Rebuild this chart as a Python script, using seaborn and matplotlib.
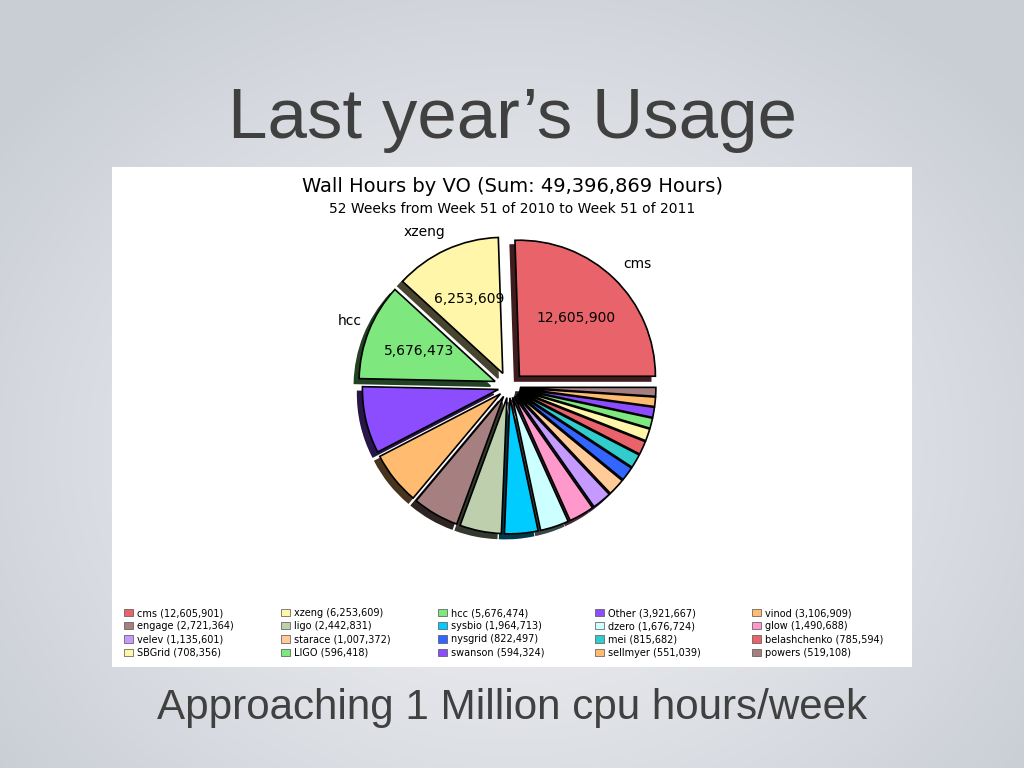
import numpy as np, matplotlib
matplotlib.use("Agg")
import matplotlib.pyplot as plt; import seaborn as sns
from matplotlib.patches import Rectangle, Patch

sns.set_style("white")
plt.rcParams["font.family"] = ["DejaVu Sans"]
plt.rcParams["text.color"] = "black"

# data (wall hours by VO, legend order)
vos = ["cms", "xzeng", "hcc", "Other", "vinod", "engage", "ligo", "sysbio", "dzero", "glow",
       "velev", "starace", "nysgrid", "mei", "belashchenko", "SBGrid", "LIGO", "swanson",
       "sellmyer", "powers"]
hours = [12605901, 6253609, 5676474, 3921667, 3106909, 2721364, 2442831, 1964713, 1676724, 1490688,
         1135601, 1007372, 822497, 815682, 785594, 708356, 596418, 594324, 551039, 519108]
pie_labels = ["cms", "xzeng", "hcc"]
inner_labels = ["12,605,900", "6,253,609", "5,676,473"]
total_label = "49,396,869"

base = ["#e8646a", "#fff6aa", "#7ee87e", "#8c4dff", "#ffbb70", "#a68080", "#bdcfac",
        "#00ccff", "#ccffff", "#ff99cc", "#c49aff", "#ffcc99", "#3366ff", "#33cccc"]
colors = sns.color_palette([base[i % len(base)] for i in range(len(vos))])

W, H = 1024, 768
fig = plt.figure(figsize=(W/100, H/100), dpi=100)

# slide background: soft radial gradient
bg = fig.add_axes([0, 0, 1, 1]); bg.axis("off")
yy, xx = np.mgrid[0:H, 0:W]
d = np.sqrt(((xx - 512)/640.0)**2 + ((yy - 450)/540.0)**2)
d = np.clip(d, 0, 1)[..., None]**1.3
c0 = np.array([0.94, 0.945, 0.955]); c1 = np.array([0.79, 0.805, 0.835])
bg.imshow(c0*(1-d) + c1*d, aspect="auto", extent=[0, 1, 0, 1])
bg.set_xlim(0, 1); bg.set_ylim(0, 1)

fig.text(513/W, 1-120/H, "Last year\u2019s Usage", ha="center", va="center",
         fontsize=51, color="#404040", family=["Liberation Sans", "DejaVu Sans"])
fig.text(512/W, 1-708/H, "Approaching 1 Million cpu hours/week", ha="center", va="center",
         fontsize=30.3, color="#404040", family=["Liberation Sans", "DejaVu Sans"])

# white chart panel
fig.patches.append(Rectangle((112/W, 1-667/H), 800/W, 500/H, transform=fig.transFigure,
                             facecolor="white", edgecolor="none", zorder=1))

fig.text(512/W, 1-187/H, f"Wall Hours by VO (Sum: {total_label} Hours)", ha="center",
         va="center", fontsize=14, zorder=3)
fig.text(512/W, 1-209/H, "52 Weeks from Week 51 of 2010 to Week 51 of 2011", ha="center",
         va="center", fontsize=10, zorder=3)

# pie
cx, cy, r, half = 509, 387, 136, 200
ax = fig.add_axes([(cx-half)/W, (H-cy-half)/H, 2*half/W, 2*half/H], zorder=2)
labels = pie_labels + [""]*(len(vos)-len(pie_labels))
explode = [0.11]*3 + [0.08]*(len(vos)-3)
wedges, texts, autotexts = ax.pie(hours, labels=labels, colors=colors, explode=explode,
                                  startangle=0, autopct=lambda p: "",
                                  shadow=dict(ox=-0.025, oy=-0.025, shade=0.72, alpha=1.0),
                                  labeldistance=1.1, pctdistance=0.6,
                                  wedgeprops=dict(edgecolor="black", linewidth=1.2),
                                  textprops=dict(fontsize=10, color="black"))
for t, s in zip(autotexts, inner_labels):
    t.set_text(s)
# nudge outer labels slightly up, left-side ones a little inward
for t in texts:
    x, y = t.get_position()
    if t.get_ha() == "right":
        x += 5/r
    t.set_position((x, y + 5/r))
ax.set_xlim(-half/r, half/r); ax.set_ylim(-half/r, half/r)
ax.axis("off")

# legend: 5 columns, row-major
ncol, nrow = 5, 4
col_x = [124, 281, 438, 595, 752]
for c in range(ncol):
    idx = [rr*ncol + c for rr in range(nrow)]
    handles = [Patch(facecolor=colors[i], edgecolor="#505050", linewidth=0.5) for i in idx]
    names = [f"{vos[i]} ({hours[i]:,})" for i in idx]
    leg = fig.legend(handles, names, loc="upper left", bbox_to_anchor=(col_x[c]/W, 1-608/H),
                     frameon=False, fontsize=7, handlelength=0.95, handleheight=0.75,
                     handletextpad=0.35, labelspacing=0.33, borderpad=0, borderaxespad=0)
    for t in leg.get_texts():
        t.set_color("black")
    leg.set_zorder(3)

fig.savefig("out.png", dpi=100)
